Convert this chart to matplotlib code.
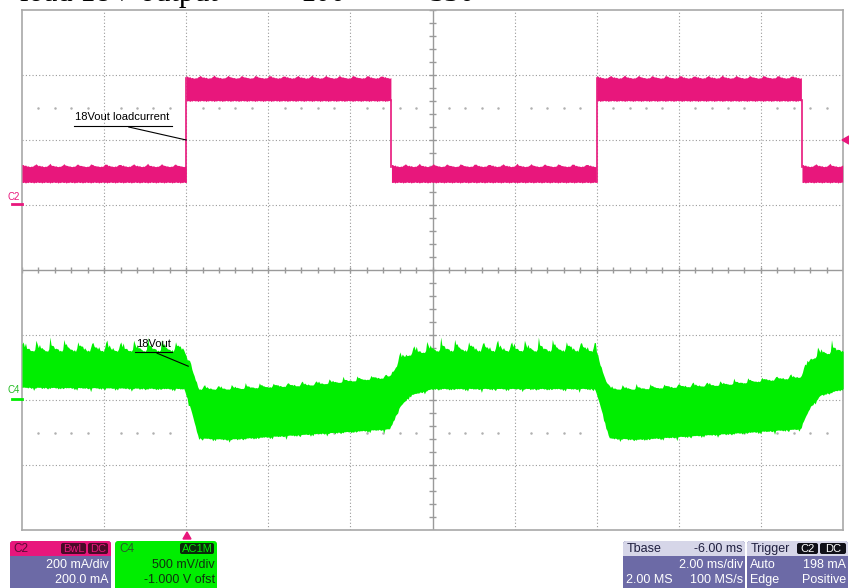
import numpy as np
import matplotlib.pyplot as plt
from matplotlib.patches import FancyBboxPatch, Rectangle, Polygon

plt.rcParams['font.family'] = ['Liberation Sans', 'DejaVu Sans']

W, H = 849, 588
# scope screen area, pixels from the top-left corner
SCR_L, SCR_R, SCR_T, SCR_B = 22, 843, 10, 530

PINK = '#e8177c'
GREEN = '#00ee00'
PURPLE = '#6c6aa6'
HEADER = '#d6d6e8'
GRID = '#9a9a9a'

# timebase 2 ms/div, trigger point 2 div from the left
ms_per_div = 2.0
t_left, t_right = -4.0, 16.0

# C2: 18V load current (mA), 200 mA/div, 200.0 mA offset
c2_per_div = 200.0
c2_offset = 200.0
c2_seg_start = [-4.0, 0.0, 5.0, 10.0, 15.0]
c2_seg_end = [0.0, 5.0, 10.0, 15.0, 16.0]
c2_seg_bottom = [71, 322, 71, 322, 71]
c2_seg_top = [118, 390, 118, 390, 118]
c2_bump = [1.0, 0.7, 0.4, 0.5, 0.2, 0.3, 0.1, 0.0, 0.2, 0.1, 0.4, 0.8]
c2_bump_amp = 11.0

# C4: 18Vout (V), AC coupled, 500 mV/div, -1.000 V offset
c4_per_div = 0.5
c4_offset = -1.0
c4_t = [-4.0, -0.05, 0.1, 0.3, 1.0, 3.0, 4.95, 5.05, 5.2, 5.45, 6.0,
        9.95, 10.1, 10.3, 11.0, 13.0, 14.95, 15.05, 15.2, 15.45, 16.0]
c4_top = [0.37, 0.37, 0.24, 0.08, 0.08, 0.11, 0.17, 0.22, 0.30, 0.34, 0.37,
          0.37, 0.24, 0.08, 0.08, 0.11, 0.17, 0.22, 0.30, 0.34, 0.37]
c4_bottom = [0.10, 0.09, -0.06, -0.29, -0.30, -0.26, -0.22, -0.15, -0.05, 0.04, 0.09,
             0.09, -0.06, -0.29, -0.30, -0.26, -0.22, -0.15, -0.05, 0.04, 0.09]
c4_spike = [0.12, 0.12, 0.08, 0.05, 0.05, 0.05, 0.05, 0.07, 0.09, 0.11, 0.12,
            0.12, 0.08, 0.05, 0.05, 0.05, 0.05, 0.07, 0.09, 0.11, 0.12]
c4_switch = [1.0, 0.8, 0.55, 0.6, 0.4, 0.3, 0.35, 0.2, 0.1, 0.15, 0.05, 0.3]
hair = [0.0, 0.6, 0.2, 0.9, 0.1, 0.5, 0.3]
ripple_period = 0.34  # ms


def c2_div(ma):
    return (np.asarray(ma, dtype=float) + c2_offset) / c2_per_div


def c4_div(v):
    return (np.asarray(v, dtype=float) + c4_offset) / c4_per_div


def tiled(pattern, n):
    return np.resize(np.array(pattern, dtype=float), n)


fig = plt.figure(figsize=(W / 100, H / 100), dpi=100)
ax = fig.add_axes([SCR_L / W, 1 - SCR_B / H, (SCR_R - SCR_L) / W, (SCR_B - SCR_T) / H])
ax.set_xlim(t_left, t_right)
ax.set_ylim(-4, 4)
ax.set_xticks([])
ax.set_yticks([])
for s in ax.spines.values():
    s.set_color('#a8a8a8')
    s.set_linewidth(1.2)

# graticule
for k in range(1, 10):
    x = t_left + k * ms_per_div
    if k == 5:
        ax.axvline(x, color=GRID, lw=1.0, zorder=1)
    else:
        ax.axvline(x, color=GRID, lw=0.8, ls=(0, (1, 2)), zorder=1)
for y in range(-3, 4):
    if y == 0:
        ax.axhline(y, color=GRID, lw=1.0, zorder=1)
    else:
        ax.axhline(y, color=GRID, lw=0.8, ls=(0, (1, 2)), zorder=1)
xc = t_left + 5 * ms_per_div
minor_t = np.arange(t_left, t_right + 1e-6, ms_per_div / 5)
minor_y = np.arange(-4, 4.001, 0.2)
ax.vlines(minor_t, -0.05, 0.05, color=GRID, lw=1.0, zorder=1)
ax.hlines(minor_y, xc - 0.08, xc + 0.08, color=GRID, lw=1.0, zorder=1)
row_t = minor_t[np.abs((minor_t - t_left) / ms_per_div - np.round((minor_t - t_left) / ms_per_div)) > 0.05]
for yr in (2.5, -2.5):
    ax.plot(row_t, np.full(len(row_t), yr), ls='none', marker='.', ms=1.6, color='#b0b0b0', zorder=1)

step = ripple_period / len(c4_switch)

# C2 trace
for t0, t1, lo, hi in zip(c2_seg_start, c2_seg_end, c2_seg_bottom, c2_seg_top):
    tt = np.arange(t0, t1 + step / 2, step)
    n = len(tt)
    top = hi + c2_bump_amp * tiled(c2_bump, n) * (0.6 + 0.4 * tiled(hair, n))
    bot = lo - 4 * tiled(hair[::-1], n)
    ax.fill_between(tt, c2_div(bot), c2_div(top), color=PINK, lw=0, zorder=3)
for i, te in enumerate(c2_seg_start[1:]):
    ax.plot([te, te], c2_div([c2_seg_bottom[i], c2_seg_top[i + 1]]), color=PINK, lw=1.2, zorder=3)

# C4 trace
tt = np.arange(t_left, t_right + step / 2, step)
n = len(tt)
top = np.interp(tt, c4_t, c4_top) + np.interp(tt, c4_t, c4_spike) * tiled(c4_switch, n) * (0.5 + 0.5 * tiled(hair, n))
bot = np.interp(tt, c4_t, c4_bottom) - 0.035 * tiled(hair[::-1], n) * tiled(c4_switch[::-1], n)
ax.fill_between(tt, c4_div(bot), c4_div(top), color=GREEN, lw=0, zorder=3)

# trace labels
ax.plot([-2.74, -0.35], [2.22, 2.22], color='black', lw=0.8, zorder=5)
ax.plot([-1.4, 0.0], [2.2, 2.0], color='black', lw=0.8, zorder=5)
ax.text(-2.72, 2.27, '18Vout loadcurrent', fontsize=8, va='bottom', ha='left', zorder=5)
ax.plot([-1.25, -0.34], [-1.26, -1.26], color='black', lw=0.8, zorder=5)
ax.plot([-0.71, 0.05], [-1.28, -1.48], color='black', lw=0.8, zorder=5)
ax.text(-1.23, -1.21, '18Vout', fontsize=8, va='bottom', ha='left', zorder=5)

# overlay in pixel coordinates for everything around the screen
ov = fig.add_axes([0, 0, 1, 1])
ov.set_xlim(0, W)
ov.set_ylim(H, 0)
ov.axis('off')

# caption line above the screen, only its lower edge is on the page
for cx, ctext in [(20, 'load 18V output'), (300, '100'), (430, '330')]:
    ov.text(cx, 0.8, ctext, fontsize=22, family='Liberation Serif', va='baseline', ha='left')

# channel markers on the left edge
ov.text(8, 197, 'C2', fontsize=7, color=PINK, va='center', ha='left')
ov.plot([12, 22], [204, 204], color=PINK, lw=2)
ov.text(8, 390, 'C4', fontsize=7, color='#22bb22', va='center', ha='left')
ov.plot([12, 22], [399, 399], color=GREEN, lw=2)

# trigger level and trigger position markers
ov.add_patch(Polygon([[842, 140], [849, 136], [849, 144]], closed=True, color=PINK))
ov.add_patch(Polygon([[187, 532], [183, 539], [191, 539]], closed=True, color=PINK, zorder=5))


def rbox(x0, y0, x1, y1, fc, r=3):
    ov.add_patch(FancyBboxPatch((x0, y0), x1 - x0, y1 - y0,
                                boxstyle=f'round,pad=0,rounding_size={r}', fc=fc, ec='none'))


def header(x0, x1, fc):
    rbox(x0, 541, x1, 556, fc)
    ov.add_patch(Rectangle((x0, 550), x1 - x0, 6, fc=fc, ec='none'))


def tag(x0, x1, label, fc, tc):
    rbox(x0, 543, x1, 554, fc, r=2)
    ov.text((x0 + x1) / 2, 548.8, label, fontsize=8, color=tc, ha='center', va='center')


# C2 box
rbox(10, 541, 111, 592, PURPLE)
header(10, 111, PINK)
ov.text(13, 548.8, 'C2', fontsize=8.5, color='#5a0a34', va='center')
tag(61, 86, 'BwL', '#4a0a28', PINK)
tag(88, 108, 'DC', '#4a0a28', PINK)
ov.text(109, 565, '200 mA/div', fontsize=9, color='white', ha='right', va='center')
ov.text(109, 580, '200.0 mA', fontsize=9, color='white', ha='right', va='center')

# C4 box
rbox(115, 541, 217, 592, GREEN)
ov.text(119, 548.8, 'C4', fontsize=8.5, color='#2a5a2a', va='center')
tag(180, 214, 'AC1M', '#0a2a0a', GREEN)
ov.text(215, 565, '500 mV/div', fontsize=9, color='#103010', ha='right', va='center')
ov.text(215, 580, '-1.000 V ofst', fontsize=9, color='#103010', ha='right', va='center')

# timebase box
rbox(623, 541, 745, 592, PURPLE)
header(623, 745, HEADER)
ov.text(627, 548.8, 'Tbase', fontsize=9, color='#202040', va='center')
ov.text(743, 548.8, '-6.00 ms', fontsize=9, color='#202040', va='center', ha='right')
ov.text(743, 565, '2.00 ms/div', fontsize=9, color='white', ha='right', va='center')
ov.text(626, 580, '2.00 MS', fontsize=9, color='white', ha='left', va='center')
ov.text(743, 580, '100 MS/s', fontsize=9, color='white', ha='right', va='center')

# trigger box
rbox(747, 541, 848, 592, PURPLE)
header(747, 848, HEADER)
ov.text(751, 548.8, 'Trigger', fontsize=9, color='#202040', va='center')
tag(797, 818, 'C2', '#101018', 'white')
tag(820, 846, 'DC', '#101018', 'white')
ov.text(750, 565, 'Auto', fontsize=9, color='white', ha='left', va='center')
ov.text(846, 565, '198 mA', fontsize=9, color='white', ha='right', va='center')
ov.text(750, 580, 'Edge', fontsize=9, color='white', ha='left', va='center')
ov.text(846, 580, 'Positive', fontsize=9, color='white', ha='right', va='center')

fig.savefig('out.png', dpi=100)
